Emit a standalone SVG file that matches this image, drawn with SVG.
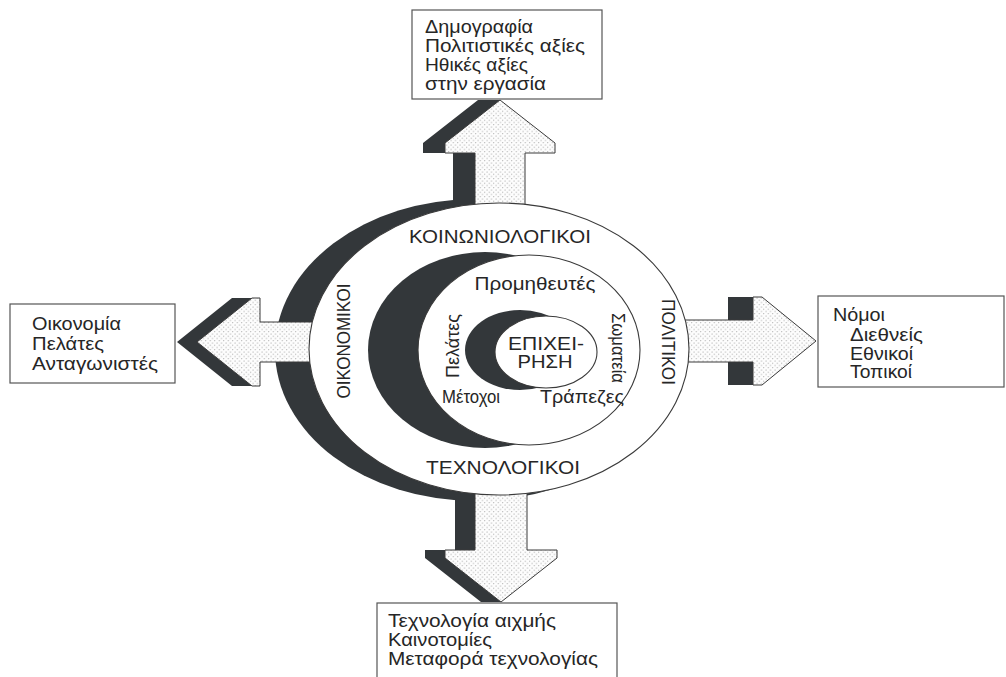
<svg xmlns="http://www.w3.org/2000/svg" width="1006" height="677" viewBox="0 0 1006 677">
  <defs>
    <!-- stippled fill used inside the four arrows -->
    <pattern id="dots" width="4.5" height="4.5" patternUnits="userSpaceOnUse">
      <rect width="4.5" height="4.5" fill="#fdfdfd"/>
      <circle cx="1" cy="1" r="0.6" fill="#9a9a9a"/>
      <circle cx="3.25" cy="3.25" r="0.6" fill="#9a9a9a"/>
    </pattern>
    <style>
      .shade { fill: #33373a; }
      .arrow { fill: url(#dots); stroke: #3a3a3a; stroke-width: 1; }
      .ring { fill: #ffffff; stroke: #3a3a3a; stroke-width: 1.1; }
      .box rect { fill: #ffffff; stroke: #555555; stroke-width: 1.2; }
      text { font-family: "Liberation Sans", Arial, sans-serif; fill: #262626; }
      .lbl { font-size: 18px; }
      .boxtxt { font-size: 17.5px; }
    </style>
  </defs>

  <rect width="1006" height="677" fill="#ffffff"/>

  <!-- outer crescent shadow -->
  <ellipse class="shade" cx="475" cy="350" rx="200" ry="151"/>

  <!-- connectors: four broad arrows pointing out of the environment -->
  <g id="connectors">
    <!-- up -->
    <polygon class="shade" points="478,100 500,100 477,128 477,215 453,215 453,153 423,153 423,143"/>
    <polygon class="arrow" points="500,100 555,143 555,153 525,153 525,215 475,215 475,153 445,153 445,143"/>
    <!-- left -->
    <polygon class="shade" points="177,342 232,298 260,298 260,386 232,386"/>
    <polygon class="arrow" points="197,342 252,298 260,298 260,322 330,322 330,362 260,362 260,386 252,386"/>
    <!-- right -->
    <rect class="shade" x="728" y="297" width="30" height="88"/>
    <polygon class="arrow" points="670,320 753,320 753,297 762,297 816,341 762,385 753,385 753,362 670,362"/>
    <!-- down -->
    <polygon class="shade" points="455,480 477,480 477,560 501,602 481,602 425,558 425,550 455,550"/>
    <polygon class="arrow" points="475,480 527,480 527,550 557,550 557,558 501,602 445,558 445,550 475,550"/>
  </g>

  <!-- outer environment ring -->
  <g id="environment">
    <ellipse class="ring" cx="499" cy="349" rx="190" ry="146"/>
    <text class="lbl" x="500" y="243" text-anchor="middle" textLength="182" lengthAdjust="spacingAndGlyphs">ΚΟΙΝΩΝΙΟΛΟΓΙΚΟΙ</text>
    <text class="lbl" x="503" y="474" text-anchor="middle" textLength="154" lengthAdjust="spacingAndGlyphs">ΤΕΧΝΟΛΟΓΙΚΟΙ</text>
    <text class="lbl" transform="translate(350,341) rotate(-90)" text-anchor="middle" textLength="115" lengthAdjust="spacingAndGlyphs">ΟΙΚΟΝΟΜΙΚΟΙ</text>
    <text class="lbl" transform="translate(662,342) rotate(90)" text-anchor="middle" textLength="86" lengthAdjust="spacingAndGlyphs">ΠΟΛΙΤΙΚΟΙ</text>
  </g>

  <!-- middle ring: stakeholders -->
  <g id="stakeholders">
    <ellipse class="shade" cx="485" cy="350" rx="117" ry="98"/>
    <ellipse class="ring" cx="529" cy="350" rx="111" ry="95"/>
    <text class="lbl" x="535" y="290" text-anchor="middle" textLength="121" lengthAdjust="spacingAndGlyphs">Προμηθευτές</text>
    <text class="lbl" transform="translate(459,346) rotate(-90)" text-anchor="middle" textLength="64" lengthAdjust="spacingAndGlyphs">Πελάτες</text>
    <text class="lbl" transform="translate(612,348) rotate(90)" text-anchor="middle" textLength="70" lengthAdjust="spacingAndGlyphs">Σωματεία</text>
    <text class="lbl" x="442" y="403" textLength="58" lengthAdjust="spacingAndGlyphs">Μέτοχοι</text>
    <text class="lbl" x="540" y="403" textLength="84" lengthAdjust="spacingAndGlyphs">Τράπεζες</text>
  </g>

  <!-- core: the firm -->
  <g id="firm">
    <ellipse class="shade" cx="520" cy="350" rx="55" ry="40"/>
    <ellipse class="ring" cx="546" cy="352" rx="51" ry="36"/>
    <text class="lbl" x="546" y="350" text-anchor="middle" textLength="76" lengthAdjust="spacingAndGlyphs">ΕΠΙΧΕΙ-</text>
    <text class="lbl" x="545" y="368" text-anchor="middle" textLength="55" lengthAdjust="spacingAndGlyphs">ΡΗΣΗ</text>
  </g>

  <!-- outer boxes -->
  <g id="social" class="box">
    <rect x="412" y="10" width="190" height="89"/>
    <text class="boxtxt" x="425" y="33" textLength="108" lengthAdjust="spacingAndGlyphs">Δημογραφία</text>
    <text class="boxtxt" x="425" y="52" textLength="160" lengthAdjust="spacingAndGlyphs">Πολιτιστικές αξίες</text>
    <text class="boxtxt" x="425" y="71" textLength="103" lengthAdjust="spacingAndGlyphs">Ηθικές αξίες</text>
    <text class="boxtxt" x="425" y="90" textLength="121" lengthAdjust="spacingAndGlyphs">στην εργασία</text>
  </g>

  <g id="economic" class="box">
    <rect x="10" y="304" width="165" height="79"/>
    <text class="boxtxt" x="32" y="330" textLength="89" lengthAdjust="spacingAndGlyphs">Οικονομία</text>
    <text class="boxtxt" x="32" y="350" textLength="72" lengthAdjust="spacingAndGlyphs">Πελάτες</text>
    <text class="boxtxt" x="32" y="370" textLength="126" lengthAdjust="spacingAndGlyphs">Ανταγωνιστές</text>
  </g>

  <g id="political" class="box">
    <rect x="818" y="296" width="186" height="91"/>
    <text class="boxtxt" x="833" y="321" textLength="52" lengthAdjust="spacingAndGlyphs">Νόμοι</text>
    <text class="boxtxt" x="850" y="341" textLength="73" lengthAdjust="spacingAndGlyphs">Διεθνείς</text>
    <text class="boxtxt" x="850" y="360" textLength="63" lengthAdjust="spacingAndGlyphs">Εθνικοί</text>
    <text class="boxtxt" x="850" y="378" textLength="62" lengthAdjust="spacingAndGlyphs">Τοπικοί</text>
  </g>

  <g id="technological" class="box">
    <rect x="377" y="603" width="240" height="80"/>
    <text class="boxtxt" x="388" y="627" textLength="168" lengthAdjust="spacingAndGlyphs">Τεχνολογία αιχμής</text>
    <text class="boxtxt" x="388" y="646" textLength="104" lengthAdjust="spacingAndGlyphs">Καινοτομίες</text>
    <text class="boxtxt" x="388" y="665" textLength="210" lengthAdjust="spacingAndGlyphs">Μεταφορά τεχνολογίας</text>
  </g>
</svg>
